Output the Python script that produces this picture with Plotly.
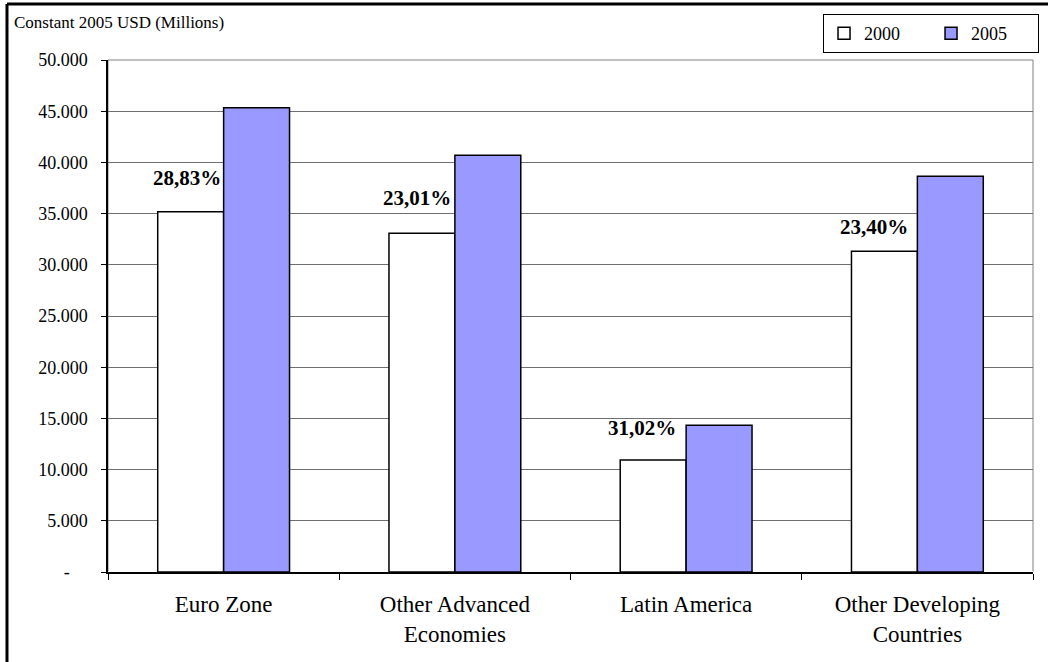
import plotly.graph_objects as go

categories = ["Euro Zone", "Other Advanced<br>Economies", "Latin America", "Other Developing<br>Countries"]
values_2000 = [35190, 33080, 10940, 31320]
values_2005 = [45330, 40690, 14330, 38650]
growth_labels = ["28,83%", "23,01%", "31,02%", "23,40%"]
y_tickvals = [0, 5000, 10000, 15000, 20000, 25000, 30000, 35000, 40000, 45000, 50000]
y_ticktext = ["-\u00a0\u00a0\u00a0\u00a0", "5.000", "10.000", "15.000", "20.000", "25.000",
              "30.000", "35.000", "40.000", "45.000", "50.000"]

FONT = "Liberation Serif, Times New Roman, serif"
label_xshift = [-1, -2, -8, -7]
label_yshift = [20, 21, 18, 10]

fig = go.Figure()
fig.add_trace(go.Bar(name="2000", x=categories, y=values_2000,
                     marker=dict(color="white", line=dict(color="black", width=1.5))))
fig.add_trace(go.Bar(name="2005", x=categories, y=values_2005,
                     marker=dict(color="#9999FF", line=dict(color="black", width=1.5))))

for cat, v, lab, dx, dy in zip(categories, values_2000, growth_labels, label_xshift, label_yshift):
    fig.add_annotation(x=cat, y=v, xref="x", yref="y", text="<b>" + lab + "</b>",
                       showarrow=False, xanchor="right", yanchor="bottom",
                       xshift=dx, yshift=dy, font=dict(family=FONT, size=21, color="black"))

fig.add_annotation(x=-0.1038, y=1.074, xref="paper", yref="paper", text="Constant 2005 USD (Millions)",
                   showarrow=False, xanchor="left", yanchor="middle",
                   font=dict(family=FONT, size=17, color="black"))

# plot area border (gray)
fig.add_shape(type="rect", xref="paper", yref="paper", x0=0, x1=1, y0=0, y1=1,
              line=dict(color="#808080", width=1), layer="below")
# outer chart frame (top and left visible)
fig.add_shape(type="line", xref="paper", yref="paper", x0=-0.1092, x1=1.2, y0=1.1094, y1=1.1094,
              line=dict(color="black", width=3))
fig.add_shape(type="line", xref="paper", yref="paper", x0=-0.1092, x1=-0.1092, y0=1.1094, y1=-0.3,
              line=dict(color="black", width=3))

fig.update_layout(
    width=1048, height=662,
    margin=dict(l=108, r=15, t=60, b=90, autoexpand=False),
    paper_bgcolor="white", plot_bgcolor="white",
    barmode="group", bargap=0.43, bargroupgap=0,
    font=dict(family=FONT, color="black"),
    showlegend=True,
    legend=dict(orientation="h", x=0.773, y=1.0898, xanchor="left", yanchor="top",
                bordercolor="black", borderwidth=1, bgcolor="white",
                font=dict(family=FONT, size=18, color="black"),
                entrywidth=62, entrywidthmode="pixels", traceorder="normal",
                itemwidth=30),
)
fig.update_xaxes(showline=True, linecolor="black", linewidth=1.5, ticks="outside", tickson="boundaries",
                 ticklen=6, tickcolor="black", showgrid=False, ticklabelstandoff=11,
                 tickfont=dict(family=FONT, size=23, color="black"))
fig.update_yaxes(range=[0, 50000], tickvals=y_tickvals, ticktext=y_ticktext,
                 showline=True, linecolor="black", linewidth=1.5, ticks="outside", ticklen=5,
                 tickcolor="black", showgrid=True, gridcolor="#6f6f6f", gridwidth=1,
                 ticklabelstandoff=10, tickfont=dict(family=FONT, size=18, color="black"))

fig.write_html("out.html")
